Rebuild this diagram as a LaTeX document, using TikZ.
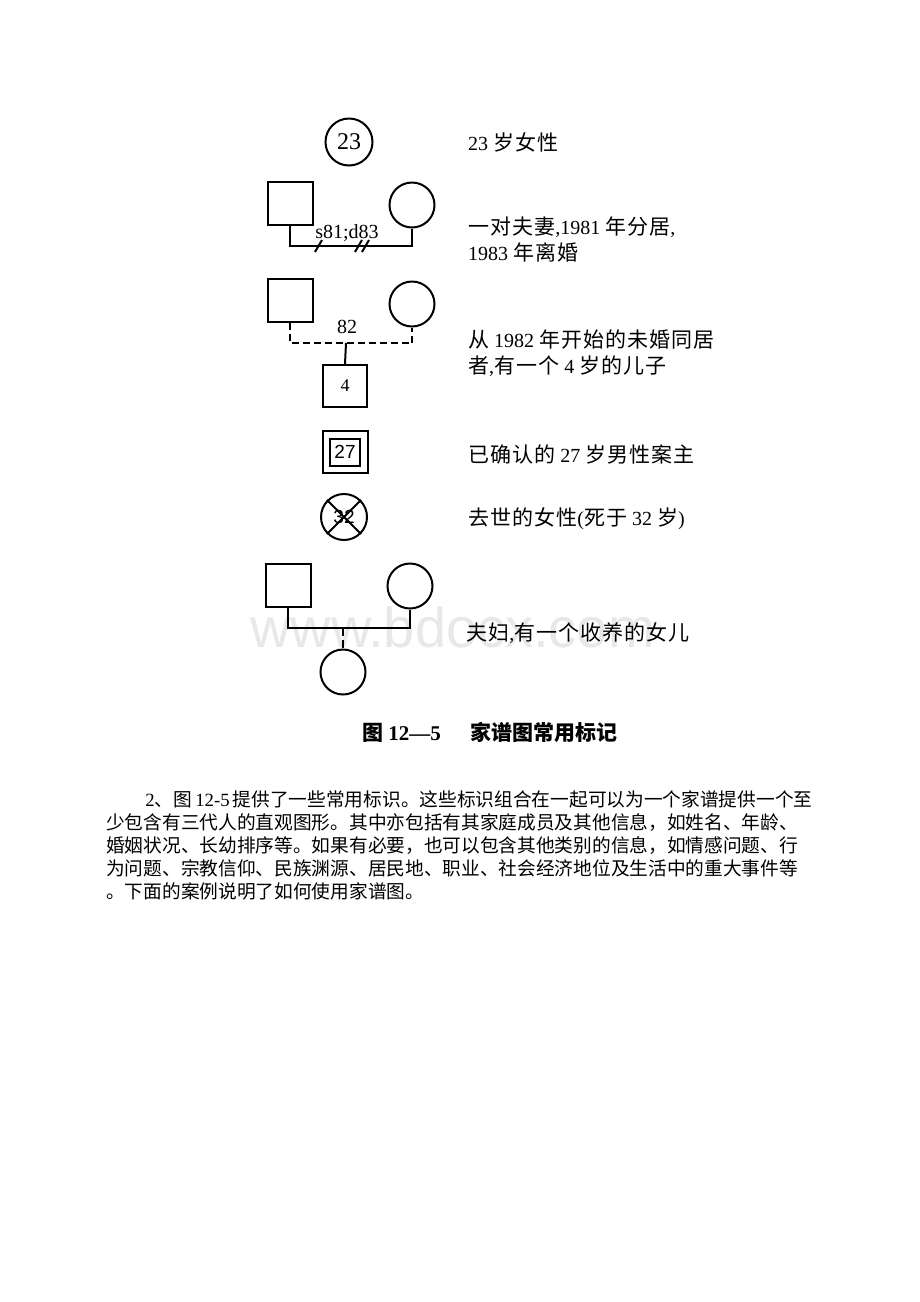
\documentclass[tikz,border=0pt]{standalone}
\usepackage{fontspec}
\setmainfont{Liberation Serif}
\newfontfamily\cjk{Noto Sans CJK SC}
\newfontfamily\cjklbl[LetterSpace=5]{Noto Sans CJK SC}
\newfontfamily\sansnum{Liberation Sans}
\newcommand{\zh}[1]{{\cjklbl\fontsize{21}{26}\selectfont #1}}
\begin{document}
\begin{tikzpicture}[x=1pt,y=-1pt,
    every node/.style={inner sep=0pt},
    line/.style={line width=2pt},
    male/.style={draw,line width=2pt,minimum width=45pt,minimum height=43pt},
    female/.style={draw,circle,line width=2pt,minimum size=45pt},
    lbl/.style={anchor=west,align=left,font=\fontsize{20}{26}\selectfont},
    num/.style={font=\fontsize{20}{20}\selectfont}]
  \fill[white] (0,0) rectangle (920,1302);
  \useasboundingbox (0,0) rectangle (920,1302);
  % watermark
  \node[anchor=base west,text=black!9,font=\sansnum\fontsize{56}{56}\selectfont] (wm) at (250,647) {www.bdocx.com};
  % 23 year old female
  \node[female,minimum size=47pt,font=\fontsize{24}{24}\selectfont] (f0) at (349,142) {23};
  \node[lbl] (t0) at (468,142) {23 \zh{岁女性}};
  % separated and divorced couple
  \node[male] (m1) at (290,203) {};
  \node[female] (f1) at (412,205) {};
  \coordinate (c1) at (350,246);
  \draw[line] (m1.south) |- (c1) -| (f1.south);
  \node[num,anchor=base] (s1) at (347,238) {s81;d83};
  \draw[line] (315,252) -- (322,240);
  \draw[line] (355,252) -- (362,240);
  \draw[line] (362,252) -- (369,240);
  \node[lbl] (t1) at (468,239) {\zh{一对夫妻},1981 \zh{年分居},\\1983 \zh{年离婚}};
  % unmarried couple with a son
  \node[male] (m2) at (290,300) {};
  \node[female] (f2) at (412,304) {};
  \coordinate (c2) at (346,343);
  \draw[line,dash pattern=on 7pt off 4pt] (m2.south) |- (c2) -| (f2.south);
  \node[num] (n2) at (347,327) {82};
  \node[male,minimum width=44pt,minimum height=42pt,font=\fontsize{18}{18}\selectfont] (s2) at (345,386) {4};
  \draw[line] (c2) -- (s2.north);
  \node[lbl] (t2) at (468,353) {\zh{从} 1982 \zh{年开始的未婚同居}\\\zh{者},\zh{有一个} 4 \zh{岁的儿子}};
  % identified patient
  \node[male,minimum width=45pt,minimum height=42pt] (p4) at (345,452) {};
  \node[draw,line,minimum width=30pt,minimum height=27pt,font=\sansnum\fontsize{19}{19}\selectfont] (p4i) at (p4) {27};
  \node[lbl] (t4) at (468,454) {\zh{已确认的} 27 \zh{岁男性案主}};
  % deceased female
  \node[female,minimum size=46pt,font=\sansnum\fontsize{19}{19}\selectfont] (d5) at (344,517) {32};
  \draw[line] (d5.45) -- (d5.225) (d5.135) -- (d5.315);
  \node[lbl] (t5) at (468,519) {\zh{去世的女性}(\zh{死于} 32 \zh{岁})};
  % couple with adopted daughter
  \node[male] (m6) at (288,585) {};
  \node[female] (f6) at (410,586) {};
  \coordinate (c6) at (343,628);
  \draw[line] (m6.south) |- (c6) -| (f6.south);
  \node[female] (a6) at (343,672) {};
  \draw[line,dash pattern=on 8pt off 4pt] (c6) -- (a6.north);
  \node[lbl] (t6) at (466,633) {\zh{夫妇},\zh{有一个收养的女儿}};
  % caption
  \node[anchor=west,font=\bfseries\fontsize{21}{21}\selectfont] (cap) at (362,732) {{\cjk\bfseries 图} 12---5\hspace{1.4em}{\cjk\bfseries 家谱图常用标记}};
  % paragraph
  \node[anchor=north west,align=left,font=\cjk\fontsize{18.7}{23}\selectfont] (para) at (106,790)
    {\hspace*{2.1em}{\rmfamily 2}、图{\rmfamily\,12-5\,}提供了一些常用标识。这些标识组合在一起可以为一个家谱提供一个至\\
     少包含有三代人的直观图形。其中亦包括有其家庭成员及其他信息，如姓名、年龄、\\
     婚姻状况、长幼排序等。如果有必要，也可以包含其他类别的信息，如情感问题、行\\
     为问题、宗教信仰、民族渊源、居民地、职业、社会经济地位及生活中的重大事件等\\
     。下面的案例说明了如何使用家谱图。};
\end{tikzpicture}
\end{document}
